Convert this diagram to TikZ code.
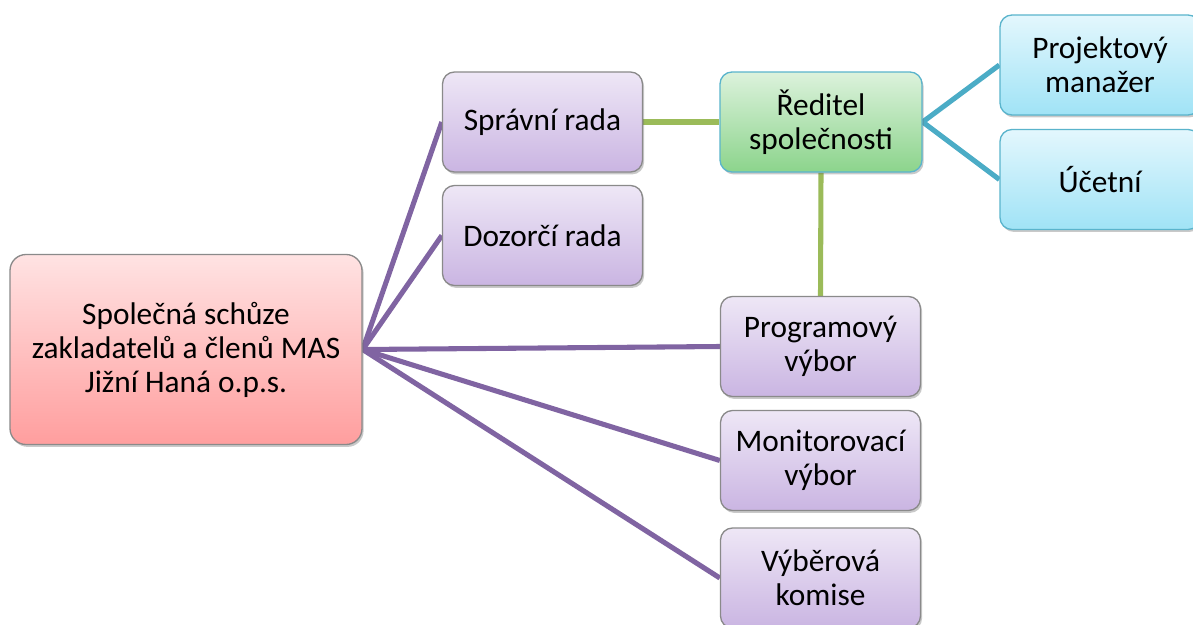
\documentclass[tikz,border=0pt]{standalone}
\usepackage{fontspec}
\setmainfont{Carlito}
\usetikzlibrary{shadows,backgrounds}
\definecolor{purpTop}{HTML}{EEE7F6}
\definecolor{purpBot}{HTML}{CAB5E2}
\definecolor{redTop}{HTML}{FFE3E3}
\definecolor{redBot}{HTML}{FF9E9E}
\definecolor{grnTop}{HTML}{DCF2DC}
\definecolor{grnBot}{HTML}{8CD48C}
\definecolor{bluTop}{HTML}{E3F7FD}
\definecolor{bluBot}{HTML}{A0E3F6}
\definecolor{grayEdge}{HTML}{8A8A8A}
\definecolor{tealEdge}{HTML}{5AB4CC}
\definecolor{purpLine}{HTML}{8064A2}
\definecolor{grnLine}{HTML}{9BBB59}
\definecolor{bluLine}{HTML}{4BACC6}
\tikzset{
  box/.style={rectangle, rounded corners=9pt, line width=1pt, inner sep=0pt,
    minimum width=150pt, minimum height=75pt, align=center,
    font=\fontsize{23.5}{25.5}\selectfont,
    drop shadow={shadow xshift=1.2pt, shadow yshift=-1.8pt, opacity=0.35, fill=black!60}},
  purpbox/.style={box, draw=grayEdge, top color=purpTop, bottom color=purpBot},
  redbox/.style={box, draw=grayEdge, top color=redTop, bottom color=redBot,
    minimum width=264pt, minimum height=142.5pt, rounded corners=12pt},
  grnbox/.style={box, draw=tealEdge, top color=grnTop, bottom color=grnBot, minimum width=151.5pt},
  blubox/.style={box, draw=tealEdge, top color=bluTop, bottom color=bluBot},
  purpconn/.style={draw=purpLine, line width=3.8pt},
  grnconn/.style={draw=grnLine, line width=3.8pt},
  bluconn/.style={draw=bluLine, line width=3.8pt}
}
\begin{document}
\begin{tikzpicture}[x=0.75pt, y=-0.75pt]
\useasboundingbox (0,0) rectangle (1193,625);
\clip (0,0) rectangle (1193,625);
\node[redbox] (root) at (186,349.5) {Společná schůze\\zakladatelů a členů MAS\\Jižní Haná o.p.s.};
\node[purpbox] (spr) at (542.5,122) {Správní rada};
\node[purpbox] (doz) at (542.5,235.5) {Dozorčí rada};
\node[grnbox] (red) at (821,122) {Ředitel\\společnosti};
\node[blubox] (pm) at (1100,65) {Projektový\\manažer};
\node[blubox] (uc) at (1100,179.5) {Účetní};
\node[purpbox] (prog) at (820.5,346.5) {Programový\\výbor};
\node[purpbox] (mon) at (820.5,460.5) {Monitorovací\\výbor};
\node[purpbox] (vyb) at (820.5,578) {Výběrová\\komise};
\begin{scope}[on background layer]
\fill[white] (0,0) rectangle (1193,625);
\draw[purpconn] (root.east) -- (spr.west);
\draw[purpconn] (root.east) -- (doz.west);
\draw[purpconn] (root.east) -- (prog.west);
\draw[purpconn] (root.east) -- (mon.west);
\draw[purpconn] (root.east) -- (vyb.west);
\draw[grnconn] (spr.east) -- (red.west);
\draw[grnconn] (red.south) -- (prog.north);
\draw[bluconn] (red.east) -- (pm.west);
\draw[bluconn] (red.east) -- (uc.west);
\end{scope}
\end{tikzpicture}
\end{document}
